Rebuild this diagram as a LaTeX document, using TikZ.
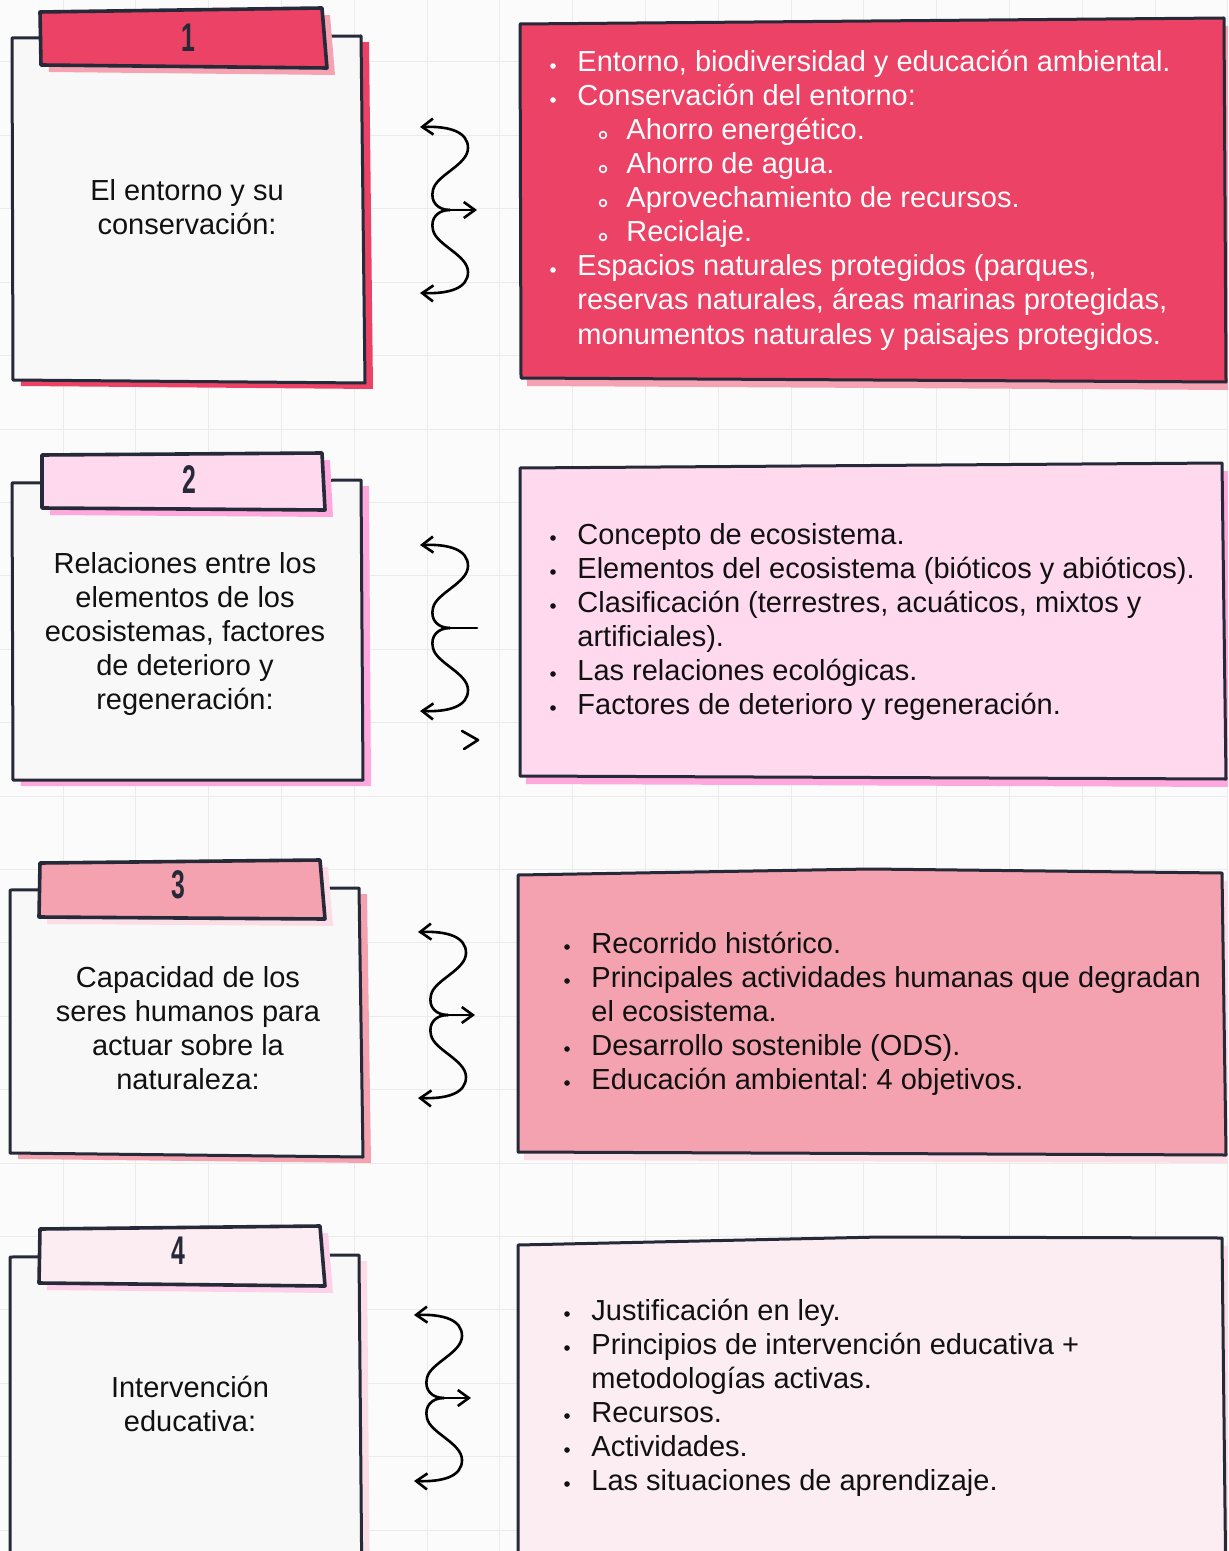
\documentclass[tikz,border=0pt]{standalone}
\usepackage{fontspec}
\setmainfont{Liberation Sans}
\usetikzlibrary{arrows.meta}
\definecolor{pagebg}{HTML}{FBFBFB}
\definecolor{gridc}{HTML}{EBEBEB}
\definecolor{ink}{HTML}{262A38}
\definecolor{txt}{HTML}{111111}
\definecolor{cardfill}{HTML}{F8F8F8}
\definecolor{redA}{HTML}{EB4265}
\definecolor{redSh}{HTML}{F5A3B3}
\definecolor{pinkA}{HTML}{FFD9EE}
\definecolor{pinkSh}{HTML}{FFA8DE}
\definecolor{roseA}{HTML}{F4A2AF}
\definecolor{roseSh}{HTML}{FBDDE5}
\definecolor{paleA}{HTML}{FBEDF1}
\definecolor{paleSh}{HTML}{FFD0EA}
\tikzset{
  outline/.style={draw=ink, line width=1.5pt, line join=round},
  tabline/.style={draw=ink, line width=1.8pt, line join=round},
  cardtxt/.style={font=\fontsize{14.5}{17}\selectfont\frenchspacing, text=txt, inner sep=0pt, anchor=base},
  itemtxt/.style={font=\fontsize{14.5}{17}\selectfont\frenchspacing, inner sep=0pt, anchor=base west},
  digit/.style={font=\fontsize{20}{20}\selectfont\bfseries, text=ink, inner sep=0pt},
  wave/.style={line width=1.3pt, line cap=round, line join=round, draw=black},
  wavearrow/.style={wave, -{Straight Barb[length=5.5pt,width=8pt]}},
  gridline/.style={draw=gridc, line width=0.5pt}
}
% bullet item: name, bullet x, baseline, colour, text
\newcommand\bitem[5]{%
  \fill[#4] ({#2},{#3-6}) circle[radius=1.4pt];
  \node[itemtxt, text=#4] (#1) at ({#2+24},{#3}) {#5};}
% sub item (hollow bullet)
\newcommand\sitem[5]{%
  \draw[#4, line width=0.8pt] ({#2},{#3-5}) circle[radius=1.7pt];
  \node[itemtxt, text=#4] (#1) at ({#2+23},{#3}) {#5};}
% continuation line: name, text x, baseline, colour, text
\newcommand\citem[5]{%
  \node[itemtxt, text=#4] (#1) at ({#2},{#3}) {#5};}
% wavy double arrow: name prefix, centre x, centre y, mid style
\newcommand\wavy[4]{%
  \begin{scope}[shift={(#2,#3)}]
    \coordinate (#1c) at (0,0);
    \coordinate (#1t) at (-30,-83);
    \coordinate (#1b) at (-30,83);
    \coordinate (#1m) at (27,0);
    \draw[wavearrow] (#1c) .. controls (-12,0) and (-20,-8) .. (-17,-20)
      .. controls (-14,-35) and (18,-45) .. (18,-62)
      .. controls (18,-78) and (0,-84) .. (#1t);
    \draw[wavearrow] (#1c) .. controls (-12,0) and (-20,8) .. (-17,20)
      .. controls (-14,35) and (18,45) .. (18,62)
      .. controls (18,78) and (0,84) .. (#1b);
    \draw[#4] (#1c) -- (#1m);
  \end{scope}}
\begin{document}
\begin{tikzpicture}[x=0.5pt,y=-0.5pt]
\useasboundingbox (0,0) rectangle (1228,1551);
\fill[pagebg] (0,0) rectangle (1228,1551);
\clip (0,0) rectangle (1228,1551);
% faint grid paper
\foreach \k in {0,...,16} { \draw[gridline] ({63+72.8*\k},0) -- ({63+72.8*\k},1551); }
\foreach \k in {0,...,20} { \draw[gridline] (0,{62+73.4*\k}) -- (1228,{62+73.4*\k}); }

% ================= ROW 1 =================
\fill[redA, shift={(8,6)}] (12,38) -- (361,36) -- (365,383) -- (13,380) -- cycle;
\path[outline, fill=cardfill] (12,38) -- (361,36) -- (365,383) -- (13,380) -- cycle;
\fill[redSh, shift={(8,7)}] (40,12) -- (322,8) -- (327,68) -- (41,65) -- cycle;
\path[tabline, fill=redA] (40,12) -- (322,8) -- (327,68) -- (41,65) -- cycle;
\node[digit] (n1) at (188,38) {\scalebox{0.62}[1]{1}};
\node[cardtxt] (c1a) at (187,201) {El entorno y su};
\node[cardtxt] (c1b) at (187,235) {conservación:};

\fill[redSh, shift={(6,8)}] (520,24) -- (1224,18) -- (1226,382) -- (521,378) -- cycle;
\path[outline, fill=redA] (520,24) -- (1224,18) -- (1226,382) -- (521,378) -- cycle;
\bitem{r1a}{553}{72}{white}{Entorno, biodiversidad y educación ambiental.}
\bitem{r1b}{553}{106}{white}{Conservación del entorno:}
\sitem{r1c}{603}{140}{white}{Ahorro energético.}
\sitem{r1d}{603}{174}{white}{Ahorro de agua.}
\sitem{r1e}{603}{208}{white}{Aprovechamiento de recursos.}
\sitem{r1f}{603}{242}{white}{Reciclaje.}
\bitem{r1g}{553}{276}{white}{Espacios naturales protegidos (parques,}
\citem{r1h}{577}{310}{white}{reservas naturales, áreas marinas protegidas,}
\citem{r1i}{577}{344}{white}{monumentos naturales y paisajes protegidos.}

\wavy{wa}{450}{210}{wavearrow}

% ================= ROW 2 =================
\fill[pinkSh, shift={(8,6)}] (12,483) -- (361,480) -- (363,780) -- (13,780) -- cycle;
\path[outline, fill=cardfill] (12,483) -- (361,480) -- (363,780) -- (13,780) -- cycle;
\fill[pinkSh, shift={(8,7)}] (42,455) -- (322,453) -- (325,510) -- (42,508) -- cycle;
\path[tabline, fill=pinkA] (42,455) -- (322,453) -- (325,510) -- (42,508) -- cycle;
\node[digit] (n2) at (189,480) {\scalebox{0.62}[1]{2}};
\node[cardtxt] (c2a) at (185,573) {Relaciones entre los};
\node[cardtxt] (c2b) at (185,607) {elementos de los};
\node[cardtxt] (c2c) at (185,641) {ecosistemas, factores};
\node[cardtxt] (c2d) at (185,675) {de deterioro y};
\node[cardtxt] (c2e) at (185,709) {regeneración:};

\fill[pinkSh, shift={(6,8)}] (520,468) -- (1222,463) -- (1226,779) -- (520,776) -- cycle;
\path[outline, fill=pinkA] (520,468) -- (1222,463) -- (1226,779) -- (520,776) -- cycle;
\bitem{r2a}{553}{544}{txt}{Concepto de ecosistema.}
\bitem{r2b}{553}{578}{txt}{Elementos del ecosistema (bióticos y abióticos).}
\bitem{r2c}{553}{612}{txt}{Clasificación (terrestres, acuáticos, mixtos y}
\citem{r2d}{577}{646}{txt}{artificiales).}
\bitem{r2e}{553}{680}{txt}{Las relaciones ecológicas.}
\bitem{r2f}{553}{714}{txt}{Factores de deterioro y regeneración.}

\wavy{wb}{450}{628}{wave}
\draw[wave] (462,731) -- (478,740) -- (464,749);

% ================= ROW 3 =================
\fill[roseA, shift={(8,6)}] (10,890) -- (359,888) -- (363,1157) -- (10,1153) -- cycle;
\path[outline, fill=cardfill] (10,890) -- (359,888) -- (363,1157) -- (10,1153) -- cycle;
\fill[roseSh, shift={(8,7)}] (40,863) -- (320,860) -- (325,919) -- (39,917) -- cycle;
\path[tabline, fill=roseA] (40,863) -- (320,860) -- (325,919) -- (39,917) -- cycle;
\node[digit] (n3) at (178,885) {\scalebox{0.62}[1]{3}};
\node[cardtxt] (c3a) at (188,987) {Capacidad de los};
\node[cardtxt] (c3b) at (188,1021) {seres humanos para};
\node[cardtxt] (c3c) at (188,1055) {actuar sobre la};
\node[cardtxt] (c3d) at (188,1089) {naturaleza:};

\fill[roseSh, shift={(6,8)}] (518,875) -- (870,869) -- (1222,873) -- (1226,1155) -- (518,1152) -- cycle;
\path[outline, fill=roseA] (518,875) -- (870,869) -- (1222,873) -- (1226,1155) -- (518,1152) -- cycle;
\bitem{r3a}{567}{953}{txt}{Recorrido histórico.}
\bitem{r3b}{567}{987}{txt}{Principales actividades humanas que degradan}
\citem{r3c}{591}{1021}{txt}{el ecosistema.}
\bitem{r3d}{567}{1055}{txt}{Desarrollo sostenible (ODS).}
\bitem{r3e}{567}{1089}{txt}{Educación ambiental: 4 objetivos.}

\wavy{wc}{448}{1015}{wavearrow}

% ================= ROW 4 =================
\fill[roseSh, shift={(8,6)}] (10,1257) -- (359,1255) -- (362,1600) -- (10,1600) -- cycle;
\path[outline, fill=cardfill] (10,1257) -- (359,1255) -- (362,1600) -- (10,1600) -- cycle;
\fill[paleSh, shift={(8,7)}] (40,1229) -- (320,1226) -- (325,1286) -- (39,1283) -- cycle;
\path[tabline, fill=paleA] (40,1229) -- (320,1226) -- (325,1286) -- (39,1283) -- cycle;
\node[digit] (n4) at (178,1251) {\scalebox{0.62}[1]{4}};
\node[cardtxt] (c4a) at (190,1397) {Intervención};
\node[cardtxt] (c4b) at (190,1431) {educativa:};

\fill[roseSh, shift={(6,8)}] (518,1245) -- (880,1237) -- (1222,1238) -- (1226,1600) -- (518,1600) -- cycle;
\path[outline, fill=paleA] (518,1245) -- (880,1237) -- (1222,1238) -- (1226,1600) -- (518,1600) -- cycle;
\bitem{r4a}{567}{1320}{txt}{Justificación en ley.}
\bitem{r4b}{567}{1354}{txt}{Principios de intervención educativa +}
\citem{r4c}{591}{1388}{txt}{metodologías activas.}
\bitem{r4d}{567}{1422}{txt}{Recursos.}
\bitem{r4e}{567}{1456}{txt}{Actividades.}
\bitem{r4f}{567}{1490}{txt}{Las situaciones de aprendizaje.}

\wavy{wd}{444}{1398}{wavearrow}
\end{tikzpicture}
\end{document}
